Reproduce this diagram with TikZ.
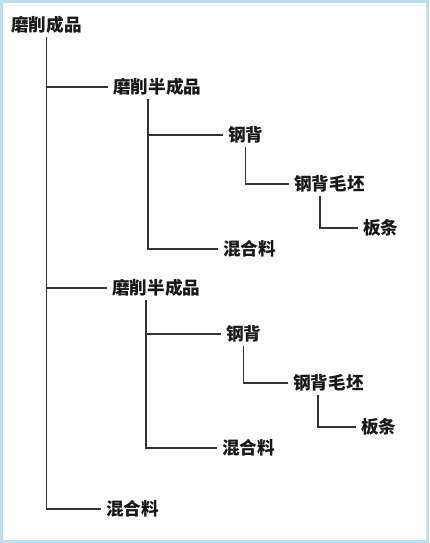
\documentclass[tikz,border=0pt]{standalone}
\usepackage{fontspec}
\newfontfamily\cjk{Noto Sans CJK SC}
\usetikzlibrary{positioning}
\definecolor{framebl}{RGB}{188,222,240}

\begin{document}
\begin{tikzpicture}[x=1pt,y=-1pt,
  item/.style={font=\cjk\bfseries\fontsize{17.6}{20}\selectfont,text=black!90,anchor=west,inner xsep=5pt,inner ysep=3pt},
  link/.style={draw=black!80,line width=1.2pt}]
\useasboundingbox (0,0) rectangle (429,543);
\draw[framebl,line width=3pt] (1.5,1.5) rectangle (427.5,541.5);

\node[item] (root) at (6,25) {磨削成品};
\node[item] (semi1) at (108,87) {磨削半成品};
\node[item] (back1) at (223,135) {钢背};
\node[item] (blank1) at (289,184) {钢背毛坯};
\node[item] (strip1) at (358,228) {板条};
\node[item] (mix1) at (218,249) {混合料};
\node[item] (semi2) at (107,288) {磨削半成品};
\node[item] (back2) at (221,334) {钢背};
\node[item] (blank2) at (288,383) {钢背毛坯};
\node[item] (strip2) at (356,427) {板条};
\node[item] (mix2) at (217,448) {混合料};
\node[item] (mix3) at (101,509) {混合料};

\draw[link] (root.south) |- (semi1.west);
\draw[link] (root.south) |- (semi2.west);
\draw[link] (root.south) |- (mix3.west);
\draw[link] ([xshift=40pt]semi1.south west) |- (back1.west);
\draw[link] ([xshift=40pt]semi1.south west) |- (mix1.west);
\draw[link] (back1.south) |- (blank1.west);
\draw[link] ([xshift=31pt]blank1.south west) |- (strip1.west);
\draw[link] ([xshift=39pt]semi2.south west) |- (back2.west);
\draw[link] ([xshift=39pt]semi2.south west) |- (mix2.west);
\draw[link] (back2.south) |- (blank2.west);
\draw[link] ([xshift=30pt]blank2.south west) |- (strip2.west);
\end{tikzpicture}
\end{document}
